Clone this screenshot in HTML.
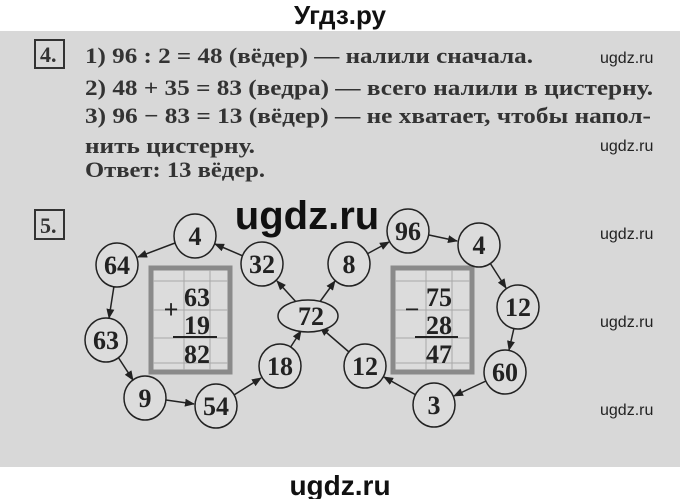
<!DOCTYPE html>
<html><head><meta charset="utf-8"><style>
body{margin:0;width:680px;height:499px;overflow:hidden;background:#fff}
svg{display:block}
</style></head><body>
<svg width="680" height="499" xmlns="http://www.w3.org/2000/svg">
<defs><marker id="ar" markerWidth="10" markerHeight="8" refX="9" refY="4" orient="auto" markerUnits="userSpaceOnUse"><path d="M0,0 L10,4 L0,8 Z" fill="#222"/></marker></defs>
<rect x="0" y="31" width="680" height="436" fill="#d8d8d8"/>
<text x="340" y="24" font-family="Liberation Sans, sans-serif" font-weight="bold" font-size="26" text-anchor="middle" fill="#111">Угдз.ру</text>
<g font-family="Liberation Serif, serif" font-size="22" font-weight="bold" fill="#333">
<rect x="35" y="40" width="29" height="28" fill="none" stroke="#333" stroke-width="2"/>
<text x="40" y="62">4.</text>
<text x="85" y="63" textLength="448" lengthAdjust="spacingAndGlyphs">1) 96 : 2 = 48 (вёдер) — налили сначала.</text>
<text x="85" y="95" textLength="568" lengthAdjust="spacingAndGlyphs">2) 48 + 35 = 83 (ведра) — всего налили в цистерну.</text>
<text x="85" y="123" textLength="566" lengthAdjust="spacingAndGlyphs">3) 96 − 83 = 13 (вёдер) — не хватает, чтобы напол-</text>
<text x="85" y="153" textLength="170" lengthAdjust="spacingAndGlyphs">нить цистерну.</text>
<text x="85" y="177" textLength="180" lengthAdjust="spacingAndGlyphs">Ответ: 13 вёдер.</text>
<rect x="35" y="210" width="29" height="29" fill="none" stroke="#333" stroke-width="2"/>
<text x="40" y="233">5.</text>
</g>
<g font-family="Liberation Sans, sans-serif" font-size="16" fill="#222">
<text x="600" y="63">ugdz.ru</text><text x="600" y="151">ugdz.ru</text>
<text x="600" y="239">ugdz.ru</text><text x="600" y="327">ugdz.ru</text><text x="600" y="415">ugdz.ru</text>
</g>
<g stroke="#a8a8a8" stroke-width="1" fill="none">
<rect x="151" y="268" width="79" height="104" fill="#dcdcdc" stroke="#8a8a8a" stroke-width="5"/>
<line x1="184" y1="270" x2="184" y2="370"/><line x1="210" y1="270" x2="210" y2="370"/>
<line x1="153" y1="281" x2="228" y2="281"/><line x1="153" y1="310" x2="228" y2="310"/><line x1="153" y1="338" x2="228" y2="338"/><line x1="153" y1="363" x2="228" y2="363"/>
<rect x="393" y="268" width="79" height="104" fill="#dcdcdc" stroke="#8a8a8a" stroke-width="5"/>
<line x1="426" y1="270" x2="426" y2="370"/><line x1="452" y1="270" x2="452" y2="370"/>
<line x1="395" y1="281" x2="470" y2="281"/><line x1="395" y1="310" x2="470" y2="310"/><line x1="395" y1="338" x2="470" y2="338"/><line x1="395" y1="363" x2="470" y2="363"/>
</g>
<g font-family="Liberation Serif, serif" font-size="26" font-weight="bold" fill="#222" text-anchor="middle">
<text x="197" y="306">63</text><text x="197" y="334">19</text><text x="197" y="363">82</text>
<text x="171" y="318">+</text>
<line x1="173" y1="337" x2="217" y2="337" stroke="#222" stroke-width="2"/>
<text x="439" y="306">75</text><text x="439" y="334">28</text><text x="439" y="363">47</text>
<text x="412" y="318">−</text>
<line x1="415" y1="337" x2="458" y2="337" stroke="#222" stroke-width="2"/>
</g>
<g stroke="#222" stroke-width="1.5" marker-end="url(#ar)">
<line x1="175" y1="243" x2="138" y2="257"/>
<line x1="243" y1="256" x2="215" y2="244"/>
<line x1="297" y1="303" x2="277" y2="281"/>
<line x1="319" y1="303" x2="335" y2="281"/>
<line x1="367" y1="254" x2="389" y2="242"/>
<line x1="429" y1="235" x2="457" y2="241"/>
<line x1="490" y1="263" x2="506" y2="288"/>
<line x1="514" y1="328" x2="509" y2="350"/>
<line x1="486" y1="381" x2="454" y2="396"/>
<line x1="416" y1="395" x2="384" y2="377"/>
<line x1="349" y1="352" x2="320" y2="327"/>
<line x1="290" y1="348" x2="301" y2="331"/>
<line x1="234" y1="395" x2="261" y2="378"/>
<line x1="166" y1="400" x2="194" y2="404"/>
<line x1="118" y1="357" x2="133" y2="380"/>
<line x1="114" y1="286" x2="109" y2="318"/>
</g>
<g fill="#dcdcdc" stroke="#222" stroke-width="1.5">
<ellipse cx="117" cy="265" rx="21" ry="22"/><ellipse cx="195" cy="236" rx="21" ry="22"/>
<ellipse cx="262" cy="264" rx="21" ry="22"/><ellipse cx="349" cy="264" rx="21" ry="22"/>
<ellipse cx="408" cy="231" rx="21" ry="22"/><ellipse cx="479" cy="245" rx="21" ry="22"/>
<ellipse cx="518" cy="307" rx="21" ry="22"/><ellipse cx="505" cy="372" rx="21" ry="22"/>
<ellipse cx="434" cy="405" rx="21" ry="22"/><ellipse cx="365" cy="366" rx="21" ry="22"/>
<ellipse cx="308" cy="316" rx="30" ry="16"/><ellipse cx="280" cy="366" rx="21" ry="22"/>
<ellipse cx="216" cy="406" rx="21" ry="22"/><ellipse cx="145" cy="398" rx="21" ry="22"/>
<ellipse cx="106" cy="340" rx="21" ry="22"/>
</g>
<g font-family="Liberation Serif, serif" font-size="26" font-weight="bold" fill="#222" text-anchor="middle">
<text x="117" y="274">64</text><text x="195" y="245">4</text><text x="262" y="273">32</text>
<text x="349" y="273">8</text><text x="408" y="240">96</text><text x="479" y="254">4</text>
<text x="518" y="316">12</text><text x="505" y="381">60</text><text x="434" y="414">3</text>
<text x="365" y="375">12</text><text x="311" y="325">72</text><text x="280" y="375">18</text>
<text x="216" y="415">54</text><text x="145" y="407">9</text><text x="106" y="349">63</text>
</g>
<text x="307" y="229" font-family="Liberation Sans, sans-serif" font-weight="bold" font-size="40" text-anchor="middle" fill="#111">ugdz.ru</text>
<text x="340" y="495" font-family="Liberation Sans, sans-serif" font-weight="bold" font-size="28" text-anchor="middle" fill="#111">ugdz.ru</text>
</svg>
</body></html>
